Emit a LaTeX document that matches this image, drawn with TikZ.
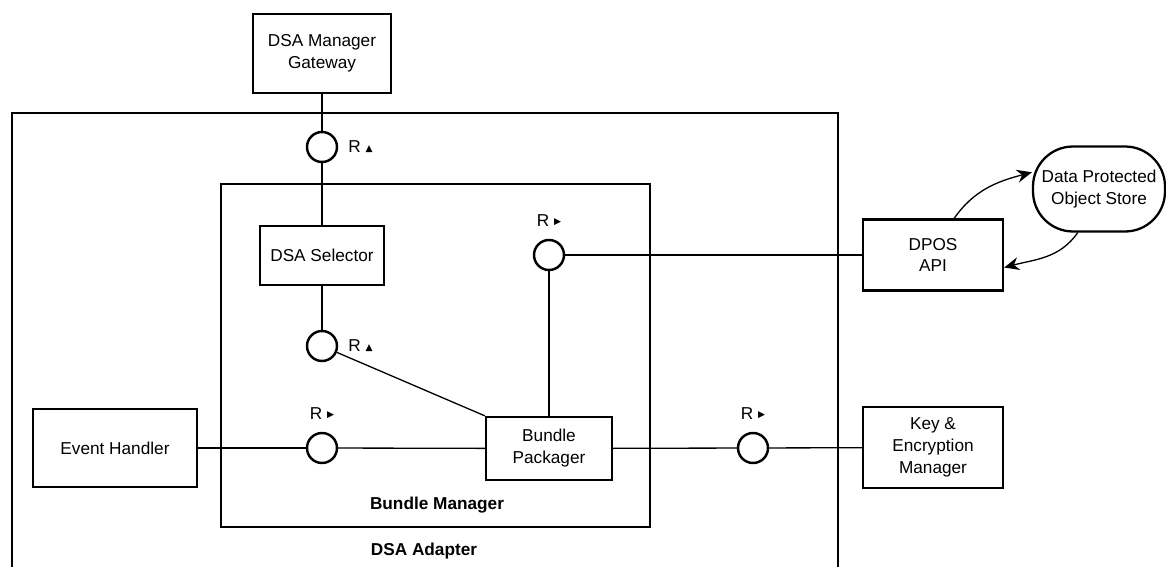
\documentclass[tikz,border=0pt]{standalone}
\usepackage{fontspec}
\setmainfont{Liberation Sans}
\newfontfamily\markfont{DejaVu Sans}
\usetikzlibrary{arrows.meta,positioning}
\newcommand{\upmark}{\raisebox{0.1em}{\markfont\fontsize{5.2}{6}\selectfont ▲}}
\newcommand{\rtmark}{\raisebox{0.15em}{\markfont\fontsize{5.2}{6}\selectfont ▶}}

\begin{document}
\begin{tikzpicture}[
    x=0.02cm, y=-0.02cm,
    every node/.style={font=\fontsize{9.8}{12.5}\selectfont},
    box/.style={rectangle, draw, line width=1.3pt, align=center, inner sep=2pt},
    port/.style={circle, draw, line width=1.4pt, minimum size=0.6cm, inner sep=0pt},
    title/.style={font=\bfseries\fontsize{9.8}{12}\selectfont},
    tag/.style={inner sep=1pt},
    link/.style={line width=0.75pt},
    flow/.style={-{Stealth[length=3mm, width=2.6mm]}, line width=0.75pt}
]
    \useasboundingbox (0,0) rectangle (1166,567);

    % DSA Adapter frame (runs off the bottom)
    \draw [line width=1.3pt] (12,575) -- (12,113) -- (838,113) -- (838,575);
    \node (adlabel) [title] at (424,551) {DSA Adapter};

    % Bundle Manager
    \node (bm) [box, minimum width=8.58cm, minimum height=6.86cm] at (435.5,355.5) {};
    \node (bmlabel) [title] at (437,505) {Bundle Manager};

    % Nodes
    \node (gw) [box, minimum width=2.76cm, minimum height=1.58cm] at (322,53.5) {DSA Manager\\Gateway};
    \node (c1) [port, label={[tag, label distance=0.16cm]right:R \upmark}] at (322,147) {};
    \node (sel) [box, minimum width=2.48cm, minimum height=1.18cm] at (322,255.5) {DSA Selector};
    \node (c2) [port, label={[tag, label distance=0.16cm]right:R \upmark}] at (322,346) {};
    \node (c3) [port, label={[tag, label distance=0.2cm]above:R \rtmark}] at (549,255) {};
    \node (bp) [box, minimum width=2.52cm, minimum height=1.26cm] at (549,448.5) {Bundle\\Packager};
    \node (eh) [box, minimum width=3.28cm, minimum height=1.56cm] at (115,448) {Event Handler};
    \node (c4) [port, label={[tag, label distance=0.2cm]above:R \rtmark}] at (322,448) {};
    \node (c5) [port, label={[tag, label distance=0.2cm]above:R \rtmark}] at (753,448) {};
    \node (dpos) [box, minimum width=2.8cm, minimum height=1.42cm] at (933,255) {DPOS\\API};
    \node (store) [box, rounded corners=0.8cm, minimum width=2.64cm, minimum height=1.7cm] at (1099,189) {Data Protected\\Object Store};
    \node (kem) [box, minimum width=2.8cm, minimum height=1.62cm] at (933,447.5) {Key \&\\Encryption\\Manager};

    % Connectors
    \draw [link] (gw) -- (c1);
    \draw [link] (c1) -- (sel);
    \draw [link] (sel) -- (c2);
    \draw [link] (c2) -- (bp.north west);
    \draw [link] (c3) -- (dpos);
    \draw [link] (c3) -- (bp);
    \draw [link] (eh) -- (c4);
    \draw [link] (c4) -- (bp);
    \draw [link] (bp) -- (c5);
    \draw [link] (c5) -- (kem);
    \draw [flow] (dpos.60) to [out=55, in=195] (store.166);
    \draw [flow] (store.244) to [out=235, in=15] (dpos.-10);
\end{tikzpicture}
\end{document}
